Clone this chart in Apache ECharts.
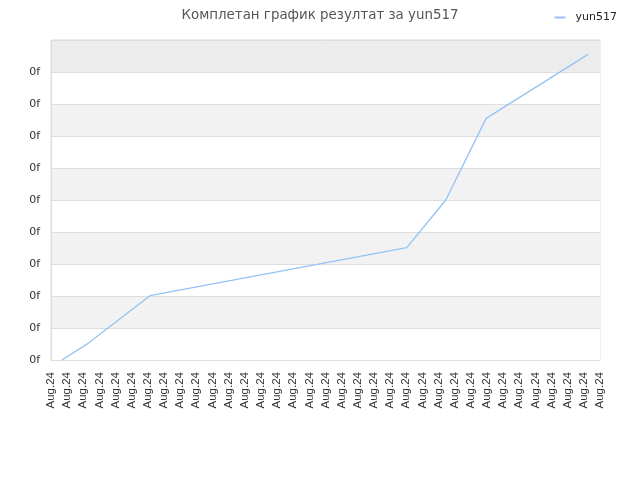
<!DOCTYPE html>
<html>
<head>
<meta charset="utf-8">
<script src="https://cdn.jsdelivr.net/npm/echarts@6/dist/echarts.min.js"></script>
<style>
  html, body { margin: 0; padding: 0; background: #fff; }
  #chart { width: 640px; height: 480px; }
</style>
</head>
<body>
<div id="chart"></div>
<script>
// x positions are in tick units (35 ticks, all labelled "Aug.24")
const tickLabel = 'Aug.24';
const xValues = [0.68, 2.3, 6.13, 22.03, 24.45, 26.95, 33.26];
const yValues = [0, 0.52, 2.01, 3.51, 5.0, 7.55, 9.55];
const seriesName = 'yun517';
const titleText = 'Комплетан график резултат за yun517';
const yLabel = '0f';

const points = xValues.map((x, i) => [x, yValues[i]]);

const chart = echarts.init(document.getElementById('chart'));
chart.setOption({
    animation: false,
    textStyle: { fontFamily: 'DejaVu Sans' },
    title: {
        text: titleText,
        left: 'center',
        top: 4,
        textStyle: { fontSize: 13.4, fontWeight: 'normal', color: '#555', fontFamily: 'DejaVu Sans' }
    },
    legend: {
        right: 18,
        top: 7,
        itemWidth: 11,
        itemHeight: 2,
        icon: 'rect',
        textStyle: { fontSize: 11, color: '#222', padding: [0, 0, 0, 5] },
        data: [seriesName]
    },
    grid: {
        left: 51, right: 40, top: 40, bottom: 120,
        show: true, borderColor: '#ddd', borderWidth: 1,
        containLabel: false
    },
    xAxis: {
        type: 'value',
        min: 0, max: 34, interval: 1,
        axisLine: { show: true, lineStyle: { color: '#ddd' } },
        axisTick: { show: false },
        splitLine: { show: false },
        axisLabel: {
            rotate: 90,
            margin: 12,
            fontSize: 11.5,
            color: '#333',
            fontFamily: 'Liberation Sans',
            formatter: () => tickLabel
        }
    },
    yAxis: {
        type: 'value',
        min: 0, max: 10, interval: 1,
        axisLine: { show: true, lineStyle: { color: '#ddd' } },
        axisTick: { show: false },
        splitLine: { show: true, lineStyle: { color: '#ddd' } },
        splitArea: {
            show: true,
            areaStyle: {
                color: ['#fff', '#f2f2f2', '#fff', '#f2f2f2', '#fff',
                        '#f2f2f2', '#fff', '#f2f2f2', '#fff', '#ececec']
            }
        },
        axisLabel: {
            margin: 11,
            fontSize: 11,
            color: '#333',
            showMaxLabel: false,
            formatter: () => yLabel
        }
    },
    series: [{
        name: seriesName,
        type: 'line',
        data: points,
        showSymbol: false,
        symbol: 'none',
        lineStyle: { color: '#93c4f4', width: 1.3 },
        itemStyle: { color: '#93c4f4' }
    }]
});
</script>
</body>
</html>
